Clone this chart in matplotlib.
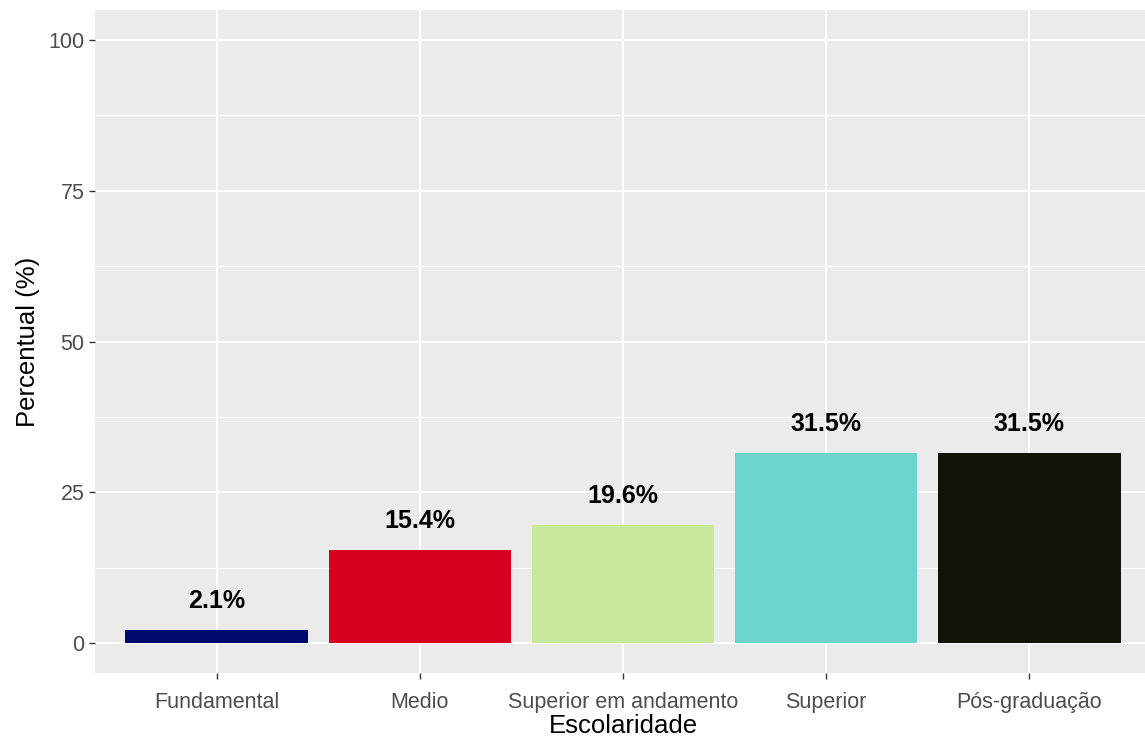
import matplotlib
matplotlib.use("Agg")
import matplotlib.pyplot as plt
import numpy as np

categories = ["Fundamental", "Medio", "Superior em andamento", "Superior", "Pós-graduação"]
values = [2.1, 15.4, 19.6, 31.5, 31.5]
colors = ["#000a6e", "#d7001f", "#c8e89e", "#6dd3ce", "#15120a"]
yticks = [0, 25, 50, 75, 100]

plt.rcParams['font.family'] = ['Liberation Sans', 'DejaVu Sans']

fig = plt.figure(figsize=(11.45, 7.42), dpi=100)
ax = fig.add_axes([95/1145, 69/742, (1151-95)/1145, (673-10)/742])
ax.set_facecolor("#ebebeb")

x = np.arange(1, len(categories) + 1)
ax.set_xlim(0.4, len(categories) + 0.6)
ax.set_ylim(-5, 105)

for yv in [12.5, 37.5, 62.5, 87.5]:
    ax.axhline(yv, color="white", lw=0.8, zorder=0)
for yv in yticks:
    ax.axhline(yv, color="white", lw=1.5, zorder=0)
for xv in x:
    ax.axvline(xv, color="white", lw=1.5, zorder=0)

ax.bar(x, values, width=0.9, color=colors, zorder=2)
for xi, v in zip(x, values):
    ax.text(xi, v + 4.8, f"{v:.1f}%", ha="center", va="center",
            fontsize=18, fontweight="bold", color="black", zorder=3)

for s in ax.spines.values():
    s.set_visible(False)

ax.set_xticks(x)
ax.set_xticklabels(categories)
ax.set_yticks(yticks)
ax.set_yticklabels([str(t) for t in yticks])
ax.tick_params(axis="both", colors="#333333", length=4.5, width=1.0,
               labelsize=15.5, labelcolor="#4d4d4d")
ax.tick_params(axis="x", pad=9)
ax.tick_params(axis="y", pad=3)
ax.set_xlabel("Escolaridade", fontsize=18.5, color="black", labelpad=1)
ax.set_ylabel("Percentual (%)", fontsize=18.5, color="black", labelpad=6)

fig.savefig("out.png", dpi=100, facecolor="white")
